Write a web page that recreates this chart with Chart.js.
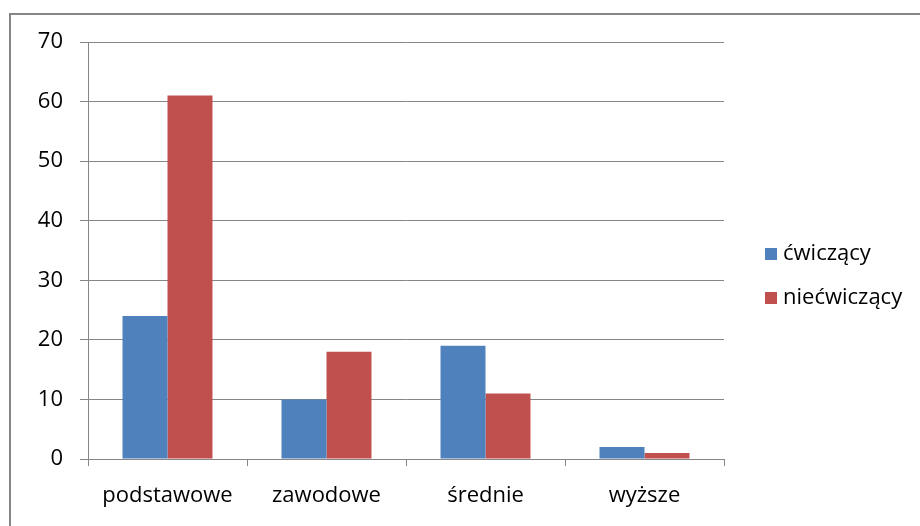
<!DOCTYPE html>
<html>
<head>
<meta charset="utf-8">
<script src="https://cdn.jsdelivr.net/npm/chart.js@4.4.1/dist/chart.umd.min.js"></script>
<style>
    body { margin: 0; background: #fff; overflow: hidden; }
    #wrap { position: relative; width: 920px; height: 526px; }
    #frame {
        position: absolute; left: 9px; top: 13px; width: 1000px; height: 600px;
        border: 2px solid #868686; box-sizing: border-box;
    }
    canvas { position: absolute; left: 0; top: 0; }
</style>
</head>
<body>
<div id="wrap">
    <div id="frame"></div>
    <canvas id="eduChart" width="920" height="526"></canvas>
</div>
<script>
const categories = ['podstawowe', 'zawodowe', 'średnie', 'wyższe'];
const exercising = [24, 10, 19, 2];
const nonExercising = [61, 18, 11, 1];
const seriesNames = ['ćwiczący', 'niećwiczący'];

const gridColor = '#868686';
const fontFamily = "'Open Sans', sans-serif";
const fontSize = 22;

// legend on the right, drawn by hand so the plot area keeps its size
const sideLegend = {
    id: 'sideLegend',
    afterDraw(chart) {
        const ctx = chart.ctx;
        ctx.save();
        ctx.font = fontSize + 'px ' + fontFamily;
        ctx.textBaseline = 'middle';
        chart.data.datasets.forEach((ds, i) => {
            const y = 254 + i * 44;
            ctx.fillStyle = ds.backgroundColor;
            ctx.fillRect(765, y - 6, 12, 12);
            ctx.fillStyle = '#000';
            ctx.fillText(ds.label, 783, y);
        });
        ctx.restore();
    }
};

const ctx = document.getElementById('eduChart').getContext('2d');
const eduChart = new Chart(ctx, {
    type: 'bar',
    data: {
        labels: categories,
        datasets: [
            {
                label: seriesNames[0],
                backgroundColor: '#4F81BD',
                data: exercising,
                barPercentage: 1,
                categoryPercentage: 0.566
            },
            {
                label: seriesNames[1],
                backgroundColor: '#C0504D',
                data: nonExercising,
                barPercentage: 1,
                categoryPercentage: 0.566
            }
        ]
    },
    options: {
        responsive: false,
        animation: false,
        layout: {
            padding: { left: 0, top: 42, right: 196, bottom: 0 }
        },
        plugins: {
            legend: { display: false },
            tooltip: { enabled: false }
        },
        scales: {
            x: {
                grid: {
                    drawOnChartArea: false,
                    offset: true,
                    tickLength: 7,
                    color: gridColor
                },
                border: { color: gridColor },
                ticks: {
                    color: '#000',
                    padding: 17,
                    font: { family: fontFamily, size: fontSize }
                },
                afterFit: scale => { scale.height = 67; }
            },
            y: {
                min: 0,
                max: 70,
                ticks: {
                    stepSize: 10,
                    color: '#000',
                    padding: 17,
                    font: { family: fontFamily, size: fontSize }
                },
                grid: {
                    color: gridColor,
                    tickLength: 8
                },
                border: { color: gridColor },
                afterFit: scale => { scale.width = 88; }
            }
        }
    },
    plugins: [sideLegend]
});
</script>
</body>
</html>
